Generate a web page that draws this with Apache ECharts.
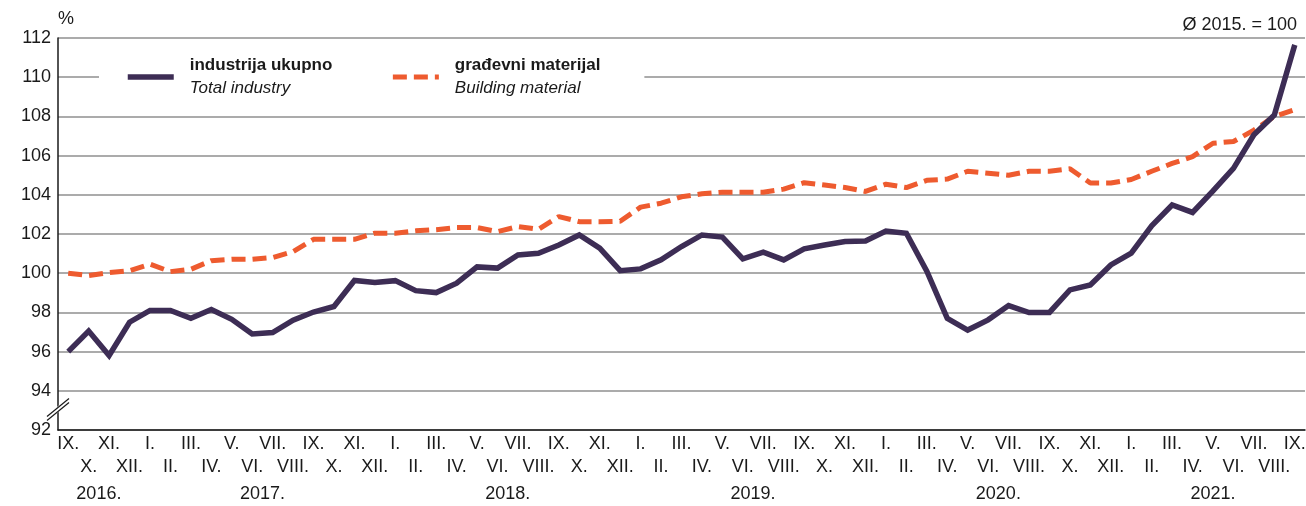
<!DOCTYPE html>
<html><head><meta charset="utf-8">
<script src="https://cdn.jsdelivr.net/npm/echarts@6/dist/echarts.min.js"></script>
<style>html,body{margin:0;padding:0;background:#fff}#c{width:1306px;height:506px}</style>
</head><body><div id="c"></div>
<script>
// ---- data ----
const months = [
  'IX.','X.','XI.','XII.',
  'I.','II.','III.','IV.','V.','VI.','VII.','VIII.','IX.','X.','XI.','XII.',
  'I.','II.','III.','IV.','V.','VI.','VII.','VIII.','IX.','X.','XI.','XII.',
  'I.','II.','III.','IV.','V.','VI.','VII.','VIII.','IX.','X.','XI.','XII.',
  'I.','II.','III.','IV.','V.','VI.','VII.','VIII.','IX.','X.','XI.','XII.',
  'I.','II.','III.','IV.','V.','VI.','VII.','VIII.','IX.'
];
const years = ['2016.','2017.','2018.','2019.','2020.','2021.'];
const totalIndustry = [
  96.0, 97.05, 95.8, 97.5,
  98.1, 98.1, 97.7, 98.15, 97.65, 96.9, 96.97, 97.6, 98.02, 98.3, 99.63, 99.52,
  99.62, 99.11, 99.01, 99.49, 100.32, 100.26, 100.93, 101.02, 101.44, 101.95, 101.28, 100.13,
  100.22, 100.68, 101.36, 101.95, 101.84, 100.73, 101.07, 100.68, 101.24, 101.44, 101.62, 101.64,
  102.15, 102.04, 100.1, 97.7, 97.1, 97.62, 98.35, 97.99, 98.0, 99.15, 99.4, 100.42,
  101.02, 102.42, 103.48, 103.1, 104.2, 105.35, 107.06, 108.07, 111.65
];
const buildingMaterial = [
  100.0, 99.88, 100.03, 100.13,
  100.46, 100.08, 100.2, 100.64, 100.71, 100.71, 100.8, 101.1, 101.73, 101.73, 101.73, 102.04,
  102.04, 102.16, 102.22, 102.33, 102.33, 102.12, 102.38, 102.24, 102.89, 102.63, 102.63, 102.65,
  103.37, 103.57, 103.9, 104.05, 104.13, 104.13, 104.13, 104.29, 104.62, 104.5, 104.37, 104.17,
  104.54, 104.37, 104.74, 104.8, 105.2, 105.1, 105.0, 105.2, 105.2, 105.33, 104.6, 104.6,
  104.78, 105.2, 105.6, 105.95, 106.63, 106.72, 107.3, 108.0, 108.35
];
const seriesNames = ['industrija ukupno', 'građevni materijal'];
const seriesNamesEn = ['Total industry', 'Building material'];
const yMin = 92, yMax = 112, yStep = 2;

// year label centres derived from the month categories
const yearStarts = [0];
months.forEach((m, i) => { if (i > 0 && m === 'I.') yearStarts.push(i); });
const yearCenters = yearStarts.map((s, k) => {
  const e = (k + 1 < yearStarts.length ? yearStarts[k + 1] : months.length) - 1;
  return (s + e) / 2;
});

const F = "'Liberation Sans',Arial,sans-serif";
const TXT = '#1a1a1a';
const chart = echarts.init(document.getElementById('c'), null, {renderer: 'canvas'});
const option = {
  animation: false,
  textStyle: {fontFamily: F},
  title: {text: 'Ø 2015. = 100', right: 4, top: 11,
    textStyle: {fontFamily: F, fontSize: 18, fontWeight: 'normal', color: TXT}},
  grid: {left: 58, right: 1, top: 38, bottom: 76, outerBoundsMode: 'none', containLabel: false},
  legend: {
    left: 99, top: 53, backgroundColor: '#fff', padding: [4, 44, 4, 26],
    itemGap: 58, itemWidth: 46, itemHeight: 14,
    data: seriesNames,
    lineStyle: {width: 'inherit'},
    itemStyle: {opacity: 0},
    formatter: n => '{a|' + n + '}\n{b|' + seriesNamesEn[seriesNames.indexOf(n)] + '}',
    textStyle: {padding: [0, 0, 0, 11],
      rich: {
        a: {fontSize: 17, fontWeight: 'bold', fontFamily: F, color: TXT, lineHeight: 23},
        b: {fontSize: 17, fontStyle: 'italic', fontFamily: F, color: TXT, lineHeight: 23}
      }}
  },
  xAxis: [{
    type: 'category', data: months, boundaryGap: true,
    axisLine: {onZero: false, lineStyle: {color: TXT, width: 1.5}},
    axisTick: {show: false},
    splitLine: {show: false},
    axisLabel: {interval: 0, margin: 3, fontSize: 18, lineHeight: 23, color: TXT, fontFamily: F,
      formatter: (v, i) => (i % 2 === 0 ? v : '\n' + v)}
  }, {
    type: 'value', min: -0.5, max: months.length - 0.5, position: 'bottom',
    axisLine: {show: false, onZero: false}, axisTick: {show: false}, splitLine: {show: false},
    axisLabel: {customValues: yearCenters, margin: 55, fontSize: 18, color: TXT, fontFamily: F,
      formatter: v => {
        let best = 0;
        yearCenters.forEach((c, k) => { if (Math.abs(c - v) < Math.abs(yearCenters[best] - v)) best = k; });
        return years[best];
      }}
  }],
  yAxis: {
    type: 'value', min: yMin, max: yMax, interval: yStep, position: 'left',
    name: '%', nameLocation: 'end', nameGap: 10,
    nameTextStyle: {align: 'left', fontSize: 18, color: TXT, fontFamily: F},
    axisLine: {show: true, onZero: false, lineStyle: {color: TXT, width: 1.5}},
    axisTick: {show: false},
    axisLabel: {margin: 7, fontSize: 18, color: TXT, fontFamily: F},
    splitLine: {lineStyle: {color: '#8f8f8f', width: 1.5}}
  },
  series: [{
    name: seriesNames[0], type: 'line', data: totalIndustry, symbol: 'none', z: 3,
    lineStyle: {color: '#3d2d55', width: 5.5, join: 'miter'}, itemStyle: {color: '#3d2d55'}
  }, {
    name: seriesNames[1], type: 'line', data: buildingMaterial, symbol: 'none', z: 2,
    lineStyle: {color: '#ee5b2f', width: 5, type: [14, 7]}, itemStyle: {color: '#ee5b2f'}
  }]
};
chart.setOption(option);

// axis break mark on the y axis
const ax = chart.convertToPixel({xAxisIndex: 1}, -0.5);
const by = chart.convertToPixel({yAxisIndex: 0}, 93.05);
chart.setOption({graphic: [
  {type: 'line', shape: {x1: ax - 11, y1: by + 9, x2: ax + 11, y2: by - 9}, style: {stroke: '#fff', lineWidth: 5}, z: 100},
  {type: 'line', shape: {x1: ax - 11, y1: by + 11, x2: ax + 11, y2: by - 7}, style: {stroke: TXT, lineWidth: 1.2}, z: 101},
  {type: 'line', shape: {x1: ax - 11, y1: by + 7, x2: ax + 11, y2: by - 11}, style: {stroke: TXT, lineWidth: 1.2}, z: 101}
]});
</script>
</body></html>
